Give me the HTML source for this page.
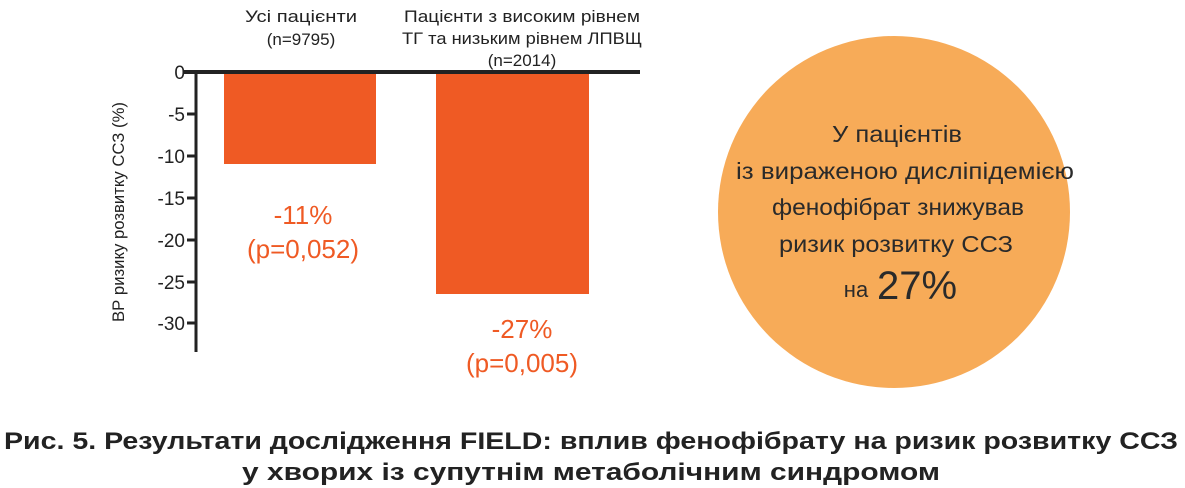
<!DOCTYPE html>
<html><head><meta charset="utf-8"><style>
html,body{margin:0;padding:0;background:#fff;}
body{width:1185px;height:488px;position:relative;overflow:hidden;font-family:"Liberation Sans","DejaVu Sans",sans-serif;}
</style></head><body>
<svg width="1185" height="488" viewBox="0 0 1185 488" style="position:absolute;left:0;top:0" font-family="Liberation Sans, DejaVu Sans, sans-serif">
<circle cx="894" cy="212" r="176" fill="#f7ab58"/>
<g fill="#2a2a2a" font-size="23" text-anchor="middle" lengthAdjust="spacingAndGlyphs">
<text x="897" y="142" textLength="130" lengthAdjust="spacingAndGlyphs">У пацієнтів</text>
<text x="905" y="179" textLength="338" lengthAdjust="spacingAndGlyphs">із вираженою дисліпідемією</text>
<text x="898" y="215" textLength="252" lengthAdjust="spacingAndGlyphs">фенофібрат знижував</text>
<text x="896" y="252" textLength="234" lengthAdjust="spacingAndGlyphs">ризик розвитку ССЗ</text>
<text x="856" y="297" font-size="22">на</text>
<text x="917" y="299" font-size="40">27%</text>
</g>
<rect x="224" y="72" width="152" height="92" fill="#ef5a24"/>
<rect x="436" y="72" width="153" height="222" fill="#ef5a24"/>
<line x1="196" y1="72" x2="196" y2="352" stroke="#222" stroke-width="3"/>
<line x1="183" y1="72" x2="640" y2="72" stroke="#222" stroke-width="4"/>
<g stroke="#222" stroke-width="3">
<line x1="187" y1="114" x2="196" y2="114"/><line x1="187" y1="156" x2="196" y2="156"/>
<line x1="187" y1="198" x2="196" y2="198"/><line x1="187" y1="240" x2="196" y2="240"/>
<line x1="187" y1="282" x2="196" y2="282"/><line x1="187" y1="323" x2="196" y2="323"/>
</g>
<g fill="#222" font-size="19" text-anchor="end">
<text x="185" y="79">0</text><text x="185" y="121">-5</text><text x="185" y="163">-10</text>
<text x="185" y="205">-15</text><text x="185" y="247">-20</text><text x="185" y="289">-25</text><text x="185" y="330">-30</text>
</g>
<text transform="translate(124,212) rotate(-90)" text-anchor="middle" font-size="17" fill="#222" textLength="220" lengthAdjust="spacingAndGlyphs">ВР ризику розвитку ССЗ (%)</text>
<g fill="#222" font-size="17" text-anchor="middle">
<text x="301" y="22" textLength="112" lengthAdjust="spacingAndGlyphs">Усі пацієнти</text><text x="301" y="45">(n=9795)</text>
<text x="522" y="22" textLength="236" lengthAdjust="spacingAndGlyphs">Пацієнти з високим рівнем</text>
<text x="522" y="44" textLength="240" lengthAdjust="spacingAndGlyphs">ТГ та низьким рівнем ЛПВЩ</text>
<text x="522" y="66">(n=2014)</text>
</g>
<g fill="#ef5a24" font-size="26" text-anchor="middle">
<text x="303" y="224">-11%</text><text x="303" y="258">(p=0,052)</text>
<text x="522" y="338">-27%</text><text x="522" y="372">(p=0,005)</text>
</g>
<g fill="#222" font-size="24" font-weight="bold" text-anchor="middle">
<text x="591" y="449" textLength="1174" lengthAdjust="spacingAndGlyphs">Рис. 5. Результати дослідження FIELD: вплив фенофібрату на ризик розвитку ССЗ</text>
<text x="591" y="480" textLength="698" lengthAdjust="spacingAndGlyphs">у хворих із супутнім метаболічним синдромом</text>
</g>
</svg>
</body></html>
